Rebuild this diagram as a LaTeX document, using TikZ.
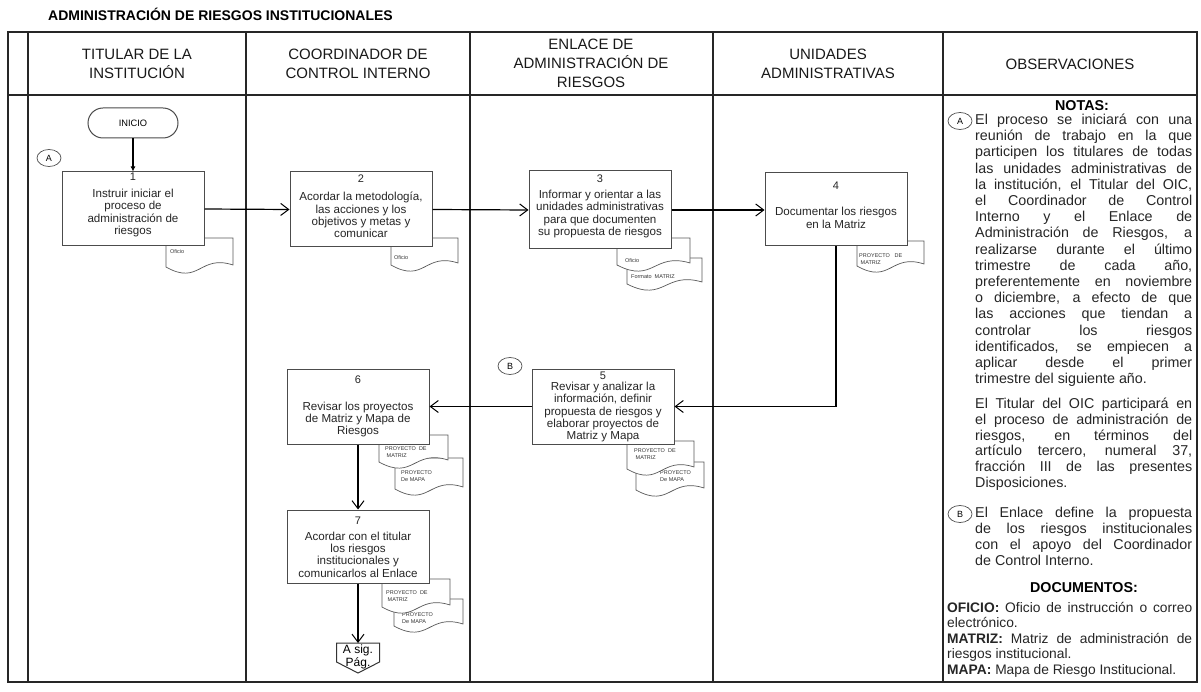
\documentclass[tikz,border=0pt]{standalone}
\usepackage{fontspec}
\setmainfont{Liberation Sans}
\usetikzlibrary{arrows.meta,shapes.geometric}
\newcommand\docsym[4]{%
  \pgfmathsetmacro\dxm{(#1+#3)/2}%
  \pgfmathsetmacro\dyr{#4-7}%
  \pgfmathsetmacro\dyl{#4-5}%
  \pgfmathsetmacro\dca{#4-18}%
  \pgfmathsetmacro\dcb{#4+14}%
  \draw[docline] (#1,#2) -- (#3,#2) -- (#3,\dyr) .. controls (\dxm,\dca) and (\dxm,\dcb) .. (#1,\dyl) -- cycle;}
\begin{document}
\begin{tikzpicture}[x=1pt,y=-1pt,
  lane/.style={line width=1.4pt, draw=black!85},
  box/.style={draw=black!70, line width=1pt, fill=white, inner sep=0pt},
  btxt/.style={font=\fontsize{11.6}{12.3}\selectfont, align=center, text=black!85, inner sep=0pt},
  bnum/.style={font=\fontsize{11}{12}\selectfont, text=black!85, inner sep=0pt},
  docline/.style={draw=black!65, line width=0.7pt, fill=white},
  dtxt/.style={font=\fontsize{5.5}{6.5}\selectfont, anchor=west, align=left, inner sep=0pt, text=black!80},
  conn/.style={line width=1.2pt, -{Straight Barb[length=8pt,width=12pt,line width=1pt]}},
  startconn/.style={line width=1.1pt, -{Latex[length=5pt,width=5pt]}},
  hd/.style={font=\fontsize{15}{19}\selectfont, align=center, text=black!90, inner sep=0pt},
  obsl/.style={anchor=west, inner sep=0pt, font=\fontsize{14.3}{16}\selectfont, text height=10pt, text depth=3pt, text=black!85},
  lett/.style={draw=black!70, ellipse, line width=0.7pt, inner sep=0pt, minimum width=24pt, minimum height=17pt, font=\fontsize{9}{9}\selectfont}
]
\useasboundingbox (0,0) rectangle (1201,692);
\fill[white] (0,0) rectangle (1201,692);

% title
\node[anchor=west, inner sep=0pt, font=\bfseries\fontsize{14}{16}\selectfont] (title) at (48,14) {ADMINISTRACIÓN DE RIESGOS INSTITUCIONALES};

% table
\draw[lane] (8,32) rectangle (1197,682);
\draw[lane] (8,95) -- (1197,95);
\foreach \x in {28,246,470,713,943} \draw[lane] (\x,32) -- (\x,682);

\node[hd] (h1) at (137,63.5) {TITULAR DE LA\\INSTITUCIÓN};
\node[hd] (h2) at (358,63.5) {COORDINADOR DE\\CONTROL INTERNO};
\node[hd] (h3) at (591,63.5) {ENLACE DE\\ADMINISTRACIÓN DE\\RIESGOS};
\node[hd] (h4) at (828,63.5) {UNIDADES\\ADMINISTRATIVAS};
\node[hd] (h5) at (1070,64) {OBSERVACIONES};

% documents (drawn before boxes)
\docsym{166}{238}{233}{272}
\node[dtxt] (d1t) at (170,252) {Oficio};
\docsym{391}{238}{458}{270}
\node[dtxt] (d2t) at (394,258) {Oficio};
\docsym{627}{258}{702}{289}
\node[dtxt] (d3bt) at (631,277) {Formato\ \ MATRIZ};
\docsym{617}{238}{690}{270}
\node[dtxt] (d3at) at (625,261) {Oficio};
\docsym{857}{241}{924}{271}
\node[dtxt] (d4t) at (859,259) {PROYECTO\ \ \ DE\\\ MATRIZ};
\docsym{636}{462}{704}{495}
\node[dtxt] (d5bt) at (660,476) {PROYECTO\\De MAPA};
\docsym{627}{441}{694}{474}
\node[dtxt] (d5at) at (634,454) {PROYECTO\ \ DE\\\ MATRIZ};
\docsym{395}{458}{463}{494}
\node[dtxt] (d6bt) at (401,476) {PROYECTO\\De MAPA};
\docsym{379}{435}{448}{467}
\node[dtxt] (d6at) at (385,452) {PROYECTO\ \ DE\\\ MATRIZ};
\docsym{394}{599}{463}{631}
\node[dtxt] (d7bt) at (402,618) {PROYECTO\\De MAPA};
\docsym{382}{579}{450}{612}
\node[dtxt] (d7at) at (386,596) {PROYECTO\ \ DE\\\ MATRIZ};

% start
\node[draw=black!70, line width=1pt, rounded corners=15pt, minimum width=90pt, minimum height=30pt, inner sep=0pt, font=\fontsize{9.3}{10}\selectfont, fill=white] (ini) at (133,123) {INICIO};
\node[lett] (ca) at (49,158) {A};
\node[lett] (cb) at (510,366) {B};

% boxes
\node[box, minimum width=142pt, minimum height=74pt] (b1) at (133,209) {};
\node[box, minimum width=142pt, minimum height=75pt] (b2) at (361,209.5) {};
\node[box, minimum width=142pt, minimum height=78pt] (b3) at (600,210) {};
\node[box, minimum width=142pt, minimum height=73pt] (b4) at (836,209.5) {};
\node[box, minimum width=142pt, minimum height=75pt] (b5) at (603,406.5) {};
\node[box, minimum width=142pt, minimum height=75pt] (b6) at (358,406.5) {};
\node[box, minimum width=142pt, minimum height=73pt] (b7) at (358,546.5) {};

\node[bnum] (n1) at (133,177) {1};
\node[btxt] (t1) at (133,213) {Instruir iniciar el\\proceso de\\administración de\\riesgos};
\node[bnum] (n2) at (361,179) {2};
\node[btxt] (t2) at (361,215) {Acordar la metodología,\\las acciones y los\\objetivos y metas y\\comunicar};
\node[bnum] (n3) at (600,179) {3};
\node[btxt] (t3) at (600,214) {Informar y orientar a las\\unidades administrativas\\para que documenten\\su propuesta de riesgos};
\node[bnum] (n4) at (836,186) {4};
\node[btxt] (t4) at (836,218) {Documentar los riesgos\\en la Matriz};
\node[bnum] (n5) at (603,376) {5};
\node[btxt] (t5) at (603,412) {Revisar y analizar la\\información, definir\\propuesta de riesgos y\\elaborar proyectos de\\Matriz\ y Mapa};
\node[bnum] (n6) at (358,380) {6};
\node[btxt] (t6) at (358,419.5) {Revisar los proyectos\\de Matriz\ y Mapa de\\Riesgos};
\node[bnum] (n7) at (358,521) {7};
\node[btxt] (t7) at (358,554.5) {Acordar con el titular\\los riesgos\\institucionales y\\comunicarlos al Enlace};

% off-page connector
\draw[draw=black!80, line width=1pt, fill=white] (336.5,643) -- (379.5,643) -- (379.5,662) -- (358,673) -- (336.5,662) -- cycle;
\coordinate (offtop) at (358,643);
\node[font=\fontsize{12}{12.5}\selectfont, align=center, inner sep=0pt] (off) at (358,657) {A sig.\\Pág.};

% connectors
\draw[startconn] (ini.south) -- (b1.north);
\draw[conn] (b1.east) -- (b2.west);
\draw[conn] (b2.east) -- (b3.west);
\draw[conn] (b3.east) -- (b3.east -| b4.west);
\draw[conn] (b4.south) |- (b5.east);
\draw[conn] (b5.west) -- (b6.east);
\draw[conn] (b6.south) -- (b7.north);
\draw[conn] (b7.south) -- (offtop);

% observations
\node[font=\bfseries\fontsize{14.3}{16}\selectfont, inner sep=0pt] (notas) at (1082,106) {NOTAS:};
\node[lett, minimum width=24pt, minimum height=17pt] (oa) at (960,121) {A};
\foreach \t [count=\i] in {{El proceso se iniciará con una},{reunión de trabajo en la que},{participen los titulares de todas},{las unidades administrativas de},{la institución, el Titular del OIC,},{el Coordinador de Control},{Interno y el Enlace de},{Administración de Riesgos, a},{realizarse durante el último},{trimestre de cada año,},{preferentemente en noviembre},{o diciembre, a efecto de que},{las acciones que tiendan a},{controlar los riesgos},{identificados, se empiecen a},{aplicar desde el primer}}
  \node[obsl] (pa\i) at (975,{121+16.2*(\i-1)}) {\makebox[217pt][s]{\t}};
\node[obsl] (pa17) at (975,380) {trimestre del siguiente año.};
\foreach \t [count=\i] in {{El Titular del OIC participará en},{el proceso de administración de},{riesgos, en términos del},{artículo tercero, numeral 37,},{fracción III de las presentes}}
  \node[obsl] (pb\i) at (975,{405+15.8*(\i-1)}) {\makebox[217pt][s]{\t}};
\node[obsl] (pb6) at (975,484) {Disposiciones.};
\node[lett, minimum width=24pt, minimum height=17pt] (ob) at (960,514) {B};
\foreach \t [count=\i] in {{El Enlace define la propuesta},{de los riesgos institucionales},{con el apoyo del Coordinador}}
  \node[obsl] (pc\i) at (975,{514+16*(\i-1)}) {\makebox[217pt][s]{\t}};
\node[obsl] (pc4) at (975,562) {de Control Interno.};
\node[font=\bfseries\fontsize{14.3}{16}\selectfont, inner sep=0pt] (docs) at (1084,588) {DOCUMENTOS:};
\node[obsl, font=\fontsize{13.8}{16}\selectfont] (dc1) at (947,609) {\makebox[245pt][s]{\textbf{OFICIO:} Oficio de instrucción o correo}};
\node[obsl, font=\fontsize{13.8}{16}\selectfont] (dc2) at (947,624) {electrónico.};
\node[obsl, font=\fontsize{13.8}{16}\selectfont] (dc3) at (947,640) {\makebox[245pt][s]{\textbf{MATRIZ:} Matriz de administración de}};
\node[obsl, font=\fontsize{13.8}{16}\selectfont] (dc4) at (947,655) {riesgos institucional.};
\node[obsl, font=\fontsize{13.8}{16}\selectfont] (dc5) at (947,671) {\textbf{MAPA:} Mapa de Riesgo Institucional.};
\end{tikzpicture}
\end{document}
